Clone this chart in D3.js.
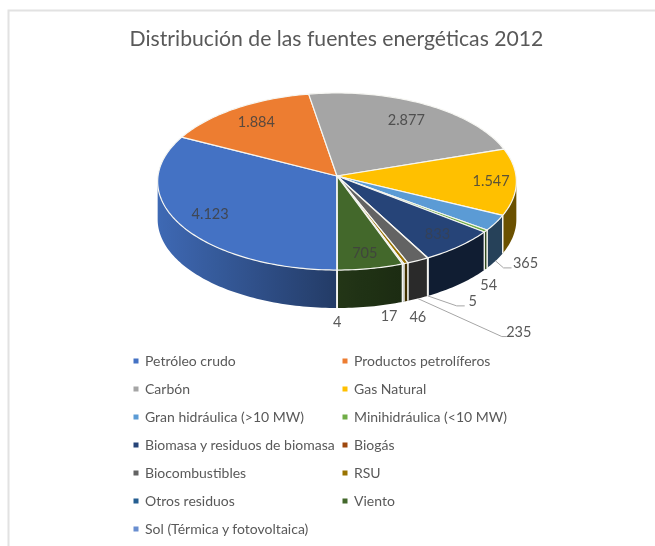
<!DOCTYPE html>
<html>
<head>
<meta charset="utf-8">
<script src="https://cdn.jsdelivr.net/npm/d3@7"></script>
<style>
    html, body { margin: 0; padding: 0; background: #fff; overflow: hidden; }
    svg { display: block; font-family: Lato, "Open Sans", sans-serif; filter: blur(0.4px); }
</style>
</head>
<body>
<div id="chart"></div>
<script>
// Data
const categories = ['Petróleo crudo', 'Productos petrolíferos', 'Carbón', 'Gas Natural',
    'Gran hidráulica (>10 MW)', 'Minihidráulica (<10 MW)', 'Biomasa y residuos de biomasa', 'Biogás',
    'Biocombustibles', 'RSU', 'Otros residuos', 'Viento', 'Sol (Térmica y fotovoltaica)'];
const values = [4123, 1884, 2877, 1547, 365, 54, 833, 5, 235, 46, 17, 705, 4];
const colors = ['#4472c4', '#ed7d31', '#a5a5a5', '#ffc000', '#5b9bd5', '#70ad47', '#264478',
    '#9e480e', '#636363', '#997300', '#255e91', '#43682b', '#698ed0'];

const title = 'Distribución de las fuentes energéticas 2012';

// Label placement: inside labels sit at a fraction of the radius, outside
// labels are shifted from the base rim of their slice
const insideRadius = {0: 0.81, 1: 0.79, 2: 0.78, 3: 0.86, 6: 0.83, 11: 0.84};
const outsideShift = {4: [30, 2], 5: [3, 16], 7: [45, 5], 8: [101, 33], 9: [12, 16], 10: [-14, 14], 12: [0, 14]};
// Elbow of the leader lines, shift from the base rim
const leaderShift = {4: [[8, 7], [16, 7]], 7: [[29, 10], [37, 10]], 8: [[84, 38], [89, 38]]};

const width = 655, height = 546;
const cx = 337, cy = 176, rx = 179, ry = 88.2, persp = 0.0622, depth = 38;

const svg = d3.select('#chart').append('svg')
    .attr('width', width)
    .attr('height', height);

// Frame
svg.append('path')
    .attr('d', `M8.5,${height}V10.5H${width}`)
    .attr('fill', 'none')
    .attr('stroke', '#e2e2e2')
    .attr('stroke-width', 2);

// Title
svg.append('text')
    .attr('x', 336.5)
    .attr('y', 45.5)
    .attr('text-anchor', 'middle')
    .attr('font-size', 21.2)
    .attr('fill', '#595959')
    .text(title);

// Pie layout, first slice starts at 6 o'clock and runs clockwise
const arcs = d3.pie().sort(null)
    .startAngle(Math.PI)
    .endAngle(3 * Math.PI)(values);

// Tilted disc with a little perspective: the near side is larger
function project(angle, r, dz) {
    const u = r * Math.sin(angle);
    const v = -r * Math.cos(angle);
    const w = 1 - persp * v;
    return [cx + rx * u / w, cy + ry * v / w + (dz || 0)];
}

function rimPoints(a0, a1, dz) {
    const n = Math.max(2, Math.ceil((a1 - a0) / 0.02));
    return d3.range(n + 1).map(i => project(a0 + (a1 - a0) * i / n, 1, dz));
}

const line = d3.line();
const defs = svg.append('defs');

// Shade of the wall depends on x: bright on the left, dark towards the front
const wallShade = d3.scaleLinear().domain([157, 337, 400]).range([0.92, 0.52, 0.42]).clamp(true);

function shaded(color, x) {
    const c = d3.rgb(color);
    const k = wallShade(x);
    return d3.rgb(c.r * k, c.g * k, c.b * k).formatHex();
}

// Walls, only the part facing the viewer
const wallFrom = Math.acos(-persp);
const wallTo = 2 * Math.PI - wallFrom;
const walls = svg.append('g');

arcs.forEach((d, i) => {
    let from = Math.max(d.startAngle, wallFrom);
    let to = Math.min(d.endAngle, wallTo);
    if (d.startAngle >= 2 * Math.PI) {
        from = Math.max(d.startAngle - 2 * Math.PI, wallFrom);
        to = Math.min(d.endAngle - 2 * Math.PI, wallTo);
    }
    if (to <= from) return;

    const top = rimPoints(from, to, 0);
    const bottom = rimPoints(from, to, depth).reverse();
    const x0 = d3.min(top, p => p[0]), x1 = d3.max(top, p => p[0]);

    const grad = defs.append('linearGradient')
        .attr('id', `wall-${i}`)
        .attr('gradientUnits', 'userSpaceOnUse')
        .attr('x1', x0).attr('x2', x1 + 0.01)
        .attr('y1', 0).attr('y2', 0);
    d3.range(7).forEach(s => {
        const x = x0 + (x1 - x0) * s / 6;
        grad.append('stop')
            .attr('offset', s / 6)
            .attr('stop-color', shaded(colors[i], x));
    });

    walls.append('path')
        .attr('d', line(top.concat(bottom)) + 'Z')
        .attr('fill', `url(#wall-${i})`);

    // Radial edges of the wall in white
    [from, to].forEach(a => {
        if (a === wallFrom || a === wallTo) return;
        walls.append('path')
            .attr('d', line([project(a, 1, 0), project(a, 1, depth)]))
            .attr('stroke', '#f4f4f0')
            .attr('stroke-width', 1.3)
            .attr('fill', 'none');
    });
});

// Top of the pie
svg.append('g').selectAll('path')
    .data(arcs)
    .join('path')
    .attr('d', d => line([[cx, cy]].concat(rimPoints(d.startAngle, d.endAngle, 0))) + 'Z')
    .attr('fill', (d, i) => colors[i])
    .attr('stroke', '#f6f6f2')
    .attr('stroke-width', 1.2)
    .attr('stroke-linejoin', 'round');

// Number format of the source: dot as thousands separator
const fmt = d3.formatLocale({decimal: ',', thousands: '.', grouping: [3], currency: ['', '']}).format(',d');

// Data labels
const labels = svg.append('g').attr('text-anchor', 'middle').attr('font-size', 14.5);

arcs.forEach((d, i) => {
    const mid = (d.startAngle + d.endAngle) / 2;
    if (insideRadius[i] !== undefined) {
        const p = project(mid, insideRadius[i], 0);
        labels.append('text')
            .attr('x', p[0])
            .attr('y', p[1])
            .attr('dy', '0.35em')
            .attr('fill', '#404040')
            .attr('fill-opacity', i === 6 ? 0.55 : 0.85)
            .text(fmt(values[i]));
        return;
    }
    const base = project(mid, 1, depth);
    const shift = outsideShift[i];
    labels.append('text')
        .attr('x', base[0] + shift[0])
        .attr('y', base[1] + shift[1])
        .attr('dy', '0.35em')
        .attr('fill', '#595959')
        .text(fmt(values[i]));
    if (leaderShift[i]) {
        const pts = [base].concat(leaderShift[i].map(s => [base[0] + s[0], base[1] + s[1]]));
        svg.append('path')
            .attr('d', line(pts))
            .attr('fill', 'none')
            .attr('stroke', '#a6a6a6')
            .attr('stroke-width', 1);
    }
});

// Legend, two columns filled row by row
const legendX = d3.scaleOrdinal().domain([0, 1]).range([136, 345]);
const legendY = d3.scalePoint().domain(d3.range(7)).range([361, 529]);

const legend = svg.append('g').selectAll('g')
    .data(categories)
    .join('g')
    .attr('transform', (d, i) => `translate(${legendX(i % 2)},${legendY(Math.floor(i / 2))})`);

legend.append('rect')
    .attr('x', -2.5)
    .attr('y', -2.5)
    .attr('width', 5)
    .attr('height', 5)
    .attr('fill', (d, i) => colors[i]);

legend.append('text')
    .attr('x', 9)
    .attr('dy', '0.35em')
    .attr('font-size', 14)
    .attr('fill', '#595959')
    .text(d => d);
</script>
</body>
</html>
